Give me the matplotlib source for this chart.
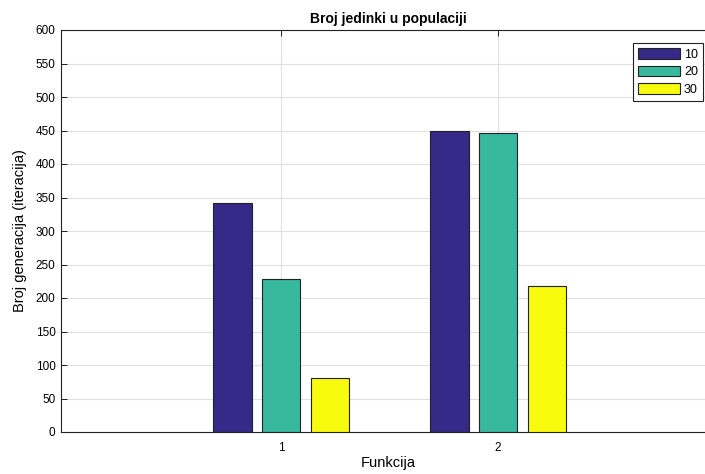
import matplotlib
matplotlib.use("Agg")
import matplotlib.pyplot as plt
import numpy as np

plt.rcParams['font.family'] = ['Liberation Sans', 'DejaVu Sans']

categories = [1, 2]
series_names = ['10', '20', '30']
values_10 = [342, 450]
values_20 = [228, 447]
values_30 = [81, 218]
colors = ['#352A87', '#38B99E', '#F9FB0E']

fig = plt.figure(figsize=(7.05, 4.74), dpi=100)
ax = fig.add_axes([61/705, 42/474, 654/705, 402/474])

x = np.array(categories, dtype=float)
offsets = [-0.225, 0.0, 0.225]
width = 0.178
for vals, off, c, name in zip([values_10, values_20, values_30], offsets, colors, series_names):
    ax.bar(x + off, vals, width=width, color=c, edgecolor='#222222', linewidth=0.8,
           label=name, zorder=3)

ax.set_xlim(-0.014, 3.0)
ax.set_ylim(0, 600)
ax.set_yticks(np.arange(0, 601, 50))
ax.set_xticks(categories)
ax.grid(True, color='#e0e0e0', linewidth=0.8, zorder=0)
ax.set_axisbelow(True)
ax.tick_params(direction='in', top=True, right=True, labelsize=8.5, length=4, width=0.6)
ax.tick_params(axis='x', pad=7)
ax.tick_params(axis='y', pad=4)
for s in ax.spines.values():
    s.set_linewidth(0.8)
    s.set_color('#222222')

ax.set_title('Broj jedinki u populaciji', fontsize=10, fontweight='bold', pad=5)
ax.set_xlabel('Funkcija', fontsize=10.5, labelpad=2)
ax.set_ylabel('Broj generacija (iteracija)', fontsize=10.5, labelpad=6)

leg = ax.legend(loc='upper right', bbox_to_anchor=(703/705, 1 - 43/474),
                bbox_transform=fig.transFigure, fontsize=9, fancybox=False,
                framealpha=1, edgecolor='#222222', handlelength=3.3, handleheight=0.95,
                borderpad=0.4, labelspacing=0.4, handletextpad=0.35, borderaxespad=0)
leg.get_frame().set_linewidth(0.8)

fig.savefig('out.png', dpi=100)
